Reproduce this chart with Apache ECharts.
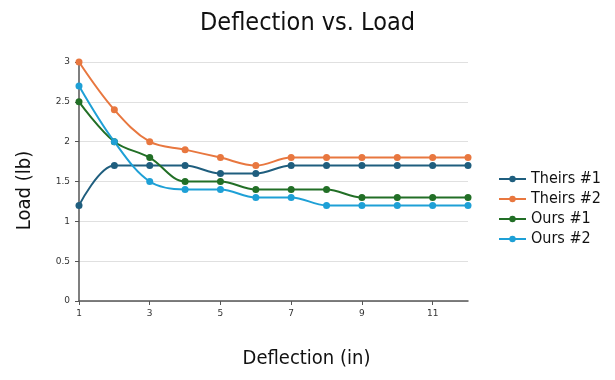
<!DOCTYPE html>
<html><head><meta charset="utf-8">
<script src="https://cdn.jsdelivr.net/npm/echarts@6/dist/echarts.min.js"></script>
<style>html,body{margin:0;padding:0;background:#fff}#c{width:615px;height:380px}</style>
</head><body><div id="c"></div>
<script>
const categories = ['1','2','3','4','5','6','7','8','9','10','11','12'];
const theirs1 = [1.2, 1.7, 1.7, 1.7, 1.6, 1.6, 1.7, 1.7, 1.7, 1.7, 1.7, 1.7];
const theirs2 = [3.0, 2.4, 2.0, 1.9, 1.8, 1.7, 1.8, 1.8, 1.8, 1.8, 1.8, 1.8];
const ours1 = [2.5, 2.0, 1.8, 1.5, 1.5, 1.4, 1.4, 1.4, 1.3, 1.3, 1.3, 1.3];
const ours2 = [2.7, 2.0, 1.5, 1.4, 1.4, 1.3, 1.3, 1.2, 1.2, 1.2, 1.2, 1.2];
const seriesNames = ['Theirs #1', 'Theirs #2', 'Ours #1', 'Ours #2'];
const colors = ['#1f5e7e', '#e8773f', '#226f26', '#1ea0d6'];
const font = '"DejaVu Sans Condensed", sans-serif';

const chart = echarts.init(document.getElementById('c'));
const mk = (name, data, i) => ({
  name, type: 'line', data, smooth: 0.35, symbol: 'circle', symbolSize: 7,
  lineStyle: {width: 2, color: colors[i]}, itemStyle: {color: colors[i]}
});
chart.setOption({
  animation: false,
  title: {text: 'Deflection vs. Load', left: 'center', top: 6,
    textStyle: {fontFamily: font, fontSize: 25, fontWeight: 'normal', color: '#111'}},
  legend: {orient: 'vertical', left: 493, top: 166, itemGap: 4, itemWidth: 27, itemHeight: 8,
    textStyle: {fontFamily: font, fontSize: 16, color: '#111'},
    data: seriesNames},
  grid: {left: 79, right: 147, top: 62, bottom: 79},
  xAxis: {type: 'category', data: categories, boundaryGap: false,
    name: 'Deflection (in)', nameLocation: 'middle', nameGap: 48,
    nameTextStyle: {fontFamily: font, fontSize: 20, color: '#111', padding: [0, 0, 0, 66]},
    axisLine: {lineStyle: {color: '#555', width: 1.5}},
    axisTick: {interval: 1, length: 4, lineStyle: {color: '#555'}},
    axisLabel: {interval: 1, fontSize: 9, color: '#333', fontFamily: 'DejaVu Sans', margin: 8},
    splitLine: {show: false}},
  yAxis: {type: 'value', min: 0, max: 3, interval: 0.5,
    name: 'Load (lb)', nameLocation: 'middle', nameGap: 44,
    nameTextStyle: {fontFamily: font, fontSize: 20, color: '#111', padding: [0, 18, 0, 0]},
    axisLine: {show: true, lineStyle: {color: '#555', width: 1.5}},
    axisTick: {show: true, length: 4, lineStyle: {color: '#555'}},
    axisLabel: {fontSize: 9, color: '#333', fontFamily: 'DejaVu Sans', margin: 9},
    splitLine: {lineStyle: {color: '#e0e0e0', width: 1}}},
  series: [mk(seriesNames[0], theirs1, 0), mk(seriesNames[1], theirs2, 1),
           mk(seriesNames[2], ours1, 2), mk(seriesNames[3], ours2, 3)]
});
</script></body></html>
